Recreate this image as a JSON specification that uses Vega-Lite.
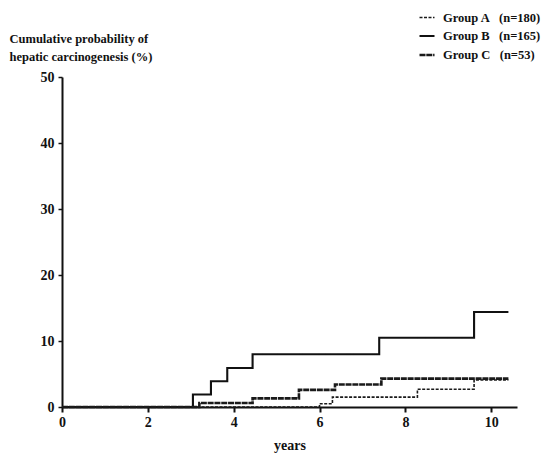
{
  "$schema": "https://vega.github.io/schema/vega-lite/v6.json",
  "width": 455,
  "height": 330,
  "autosize": "none",
  "padding": {"left": 62, "top": 77, "right": 35, "bottom": 51},
  "background": "white",
  "config": {
    "view": {"stroke": null},
    "font": "Liberation Serif",
    "axis": {"grid": false, "domainColor": "#111", "tickColor": "#111", "labelColor": "#111", "titleColor": "#111", "labelFont": "Liberation Serif", "titleFont": "Liberation Serif"}
  },
  "data": {
    "values": [
      {"group": "Group A\u00a0\u00a0\u00a0(n=180)", "years": 0, "pct": 0},
      {"group": "Group A\u00a0\u00a0\u00a0(n=180)", "years": 6.0, "pct": 0.5},
      {"group": "Group A\u00a0\u00a0\u00a0(n=180)", "years": 6.3, "pct": 1.5},
      {"group": "Group A\u00a0\u00a0\u00a0(n=180)", "years": 8.28, "pct": 2.7},
      {"group": "Group A\u00a0\u00a0\u00a0(n=180)", "years": 9.6, "pct": 4.1},
      {"group": "Group A\u00a0\u00a0\u00a0(n=180)", "years": 10.4, "pct": 4.1},
      {"group": "Group B\u00a0\u00a0\u00a0(n=165)", "years": 0, "pct": 0},
      {"group": "Group B\u00a0\u00a0\u00a0(n=165)", "years": 3.05, "pct": 1.9},
      {"group": "Group B\u00a0\u00a0\u00a0(n=165)", "years": 3.47, "pct": 3.9},
      {"group": "Group B\u00a0\u00a0\u00a0(n=165)", "years": 3.85, "pct": 5.9},
      {"group": "Group B\u00a0\u00a0\u00a0(n=165)", "years": 4.44, "pct": 8.0},
      {"group": "Group B\u00a0\u00a0\u00a0(n=165)", "years": 7.39, "pct": 10.5},
      {"group": "Group B\u00a0\u00a0\u00a0(n=165)", "years": 9.6, "pct": 14.4},
      {"group": "Group B\u00a0\u00a0\u00a0(n=165)", "years": 10.4, "pct": 14.4},
      {"group": "Group C\u00a0\u00a0\u00a0(n=53)", "years": 0, "pct": 0},
      {"group": "Group C\u00a0\u00a0\u00a0(n=53)", "years": 3.2, "pct": 0.6},
      {"group": "Group C\u00a0\u00a0\u00a0(n=53)", "years": 4.44, "pct": 1.3},
      {"group": "Group C\u00a0\u00a0\u00a0(n=53)", "years": 5.52, "pct": 2.6},
      {"group": "Group C\u00a0\u00a0\u00a0(n=53)", "years": 6.36, "pct": 3.4},
      {"group": "Group C\u00a0\u00a0\u00a0(n=53)", "years": 7.44, "pct": 4.3},
      {"group": "Group C\u00a0\u00a0\u00a0(n=53)", "years": 10.4, "pct": 4.3}
    ]
  },
  "mark": {"type": "line", "interpolate": "step-after", "clip": false},
  "encoding": {
    "x": {
      "field": "years", "type": "quantitative",
      "scale": {"domain": [0, 10.6], "nice": false, "zero": false},
      "axis": {"values": [0, 2, 4, 6, 8, 10], "title": "years", "titleFontSize": 14, "titleFontWeight": "bold", "titlePadding": 9, "labelFontSize": 14, "labelFontWeight": "bold", "labelPadding": 3, "tickSize": 5, "domainWidth": 2, "tickWidth": 2, "labelFlush": false}
    },
    "y": {
      "field": "pct", "type": "quantitative",
      "scale": {"domain": [0, 50], "nice": false},
      "axis": {"values": [0, 10, 20, 30, 40, 50], "title": ["Cumulative probability of", "hepatic carcinogenesis (%)"], "titleAngle": 0, "titleAlign": "left", "titleBaseline": "alphabetic", "titleX": -53, "titleY": -35, "titleLineHeight": 18, "titleFontSize": 12.5, "titleFontWeight": "bold", "labelFontSize": 14, "labelFontWeight": "bold", "labelPadding": 4, "tickSize": 4, "domainWidth": 2, "tickWidth": 1.5}
    },
    "color": {
      "field": "group", "type": "nominal",
      "scale": {"range": ["#1a1a1a", "#111111", "#1a1a1a"]},
      "legend": {"title": null, "orient": "none", "legendX": 356, "legendY": -68, "symbolType": "stroke", "symbolSize": 225, "symbolStrokeWidth": 1.5, "labelFont": "Liberation Serif", "labelFontSize": 12.5, "labelFontWeight": "bold", "labelColor": "#111", "labelOffset": 7, "rowPadding": 3, "padding": 0}
    },
    "strokeDash": {
      "field": "group", "type": "nominal",
      "scale": {"range": [[3, 1.5], [1, 0], [6, 0.8]]}
    },
    "strokeWidth": {
      "field": "group", "type": "nominal",
      "scale": {"range": [1.6, 2.6, 1.8]},
      "legend": null
    }
  }
}
